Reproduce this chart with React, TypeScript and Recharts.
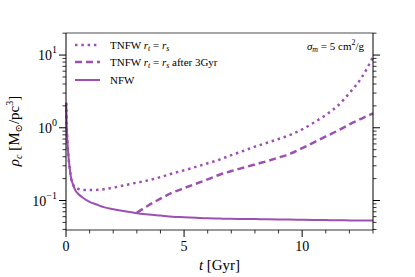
import { LineChart, Line, XAxis, YAxis, Legend } from "recharts";

const PURPLE = "#9d4fb3";
const FONT = "'Liberation Serif', 'Times New Roman', 'DejaVu Serif', serif";

// time grid in Gyr
const times = [
  0.01, 0.03, 0.06, 0.1, 0.15, 0.22, 0.3, 0.4, 0.5, 0.7, 1.0, 1.3, 1.6, 2.0, 2.5, 3.0, 3.5, 4.0,
  4.5, 5, 5.5, 6, 6.5, 7, 7.5, 8, 8.5, 9, 9.5, 10, 10.5, 11, 11.5, 12, 12.5, 13,
];

const nfw = [
  2.2, 1.1, 0.65, 0.42, 0.29, 0.2, 0.165, 0.137, 0.125, 0.11, 0.096, 0.088, 0.081, 0.076, 0.071,
  0.067, 0.064, 0.062, 0.06, 0.059, 0.058, 0.057, 0.0565, 0.056, 0.0557, 0.0555, 0.0552, 0.055,
  0.0547, 0.0544, 0.0541, 0.0538, 0.0535, 0.0533, 0.0531, 0.053,
];

const tnfw = [
  2.2, 1.1, 0.65, 0.42, 0.29, 0.2, 0.165, 0.15, 0.145, 0.14, 0.139, 0.14, 0.143, 0.15, 0.163,
  0.176, 0.19, 0.21, 0.235, 0.26, 0.29, 0.325, 0.365, 0.42, 0.48, 0.55, 0.62, 0.7, 0.8, 0.95,
  1.18, 1.5, 2.0, 3.0, 4.8, 9.4,
];

const tnfwAfter3 = [
  null, null, null, null, null, null, null, null, null, null, null, null, null, null, null,
  0.068, 0.086, 0.106, 0.128, 0.148, 0.17, 0.195, 0.226, 0.254, 0.282, 0.313, 0.347, 0.389, 0.44,
  0.525, 0.63, 0.76, 0.91, 1.11, 1.33, 1.58,
];

const xTicks = [0, 1, 2, 3, 4, 5, 6, 7, 8, 9, 10, 11, 12, 13];
const xMajor = [0, 5, 10];
const yMajor = [0.1, 1, 10];
const yMinor = [0.04, 0.05, 0.06, 0.07, 0.08, 0.09, 0.2, 0.3, 0.4, 0.5, 0.6, 0.7, 0.8, 0.9, 2, 3, 4, 5, 6, 7, 8, 9, 20];
const yTicks = [...yMinor, ...yMajor].sort((a, b) => a - b);
const yExp: Record<string, string> = { "0.1": "\u22121", "1": "0", "10": "1" };

const data = times.map((t, i) => ({
  t,
  nfw: nfw[i],
  tnfw: tnfw[i],
  tnfw3: tnfwAfter3[i],
}));

const XTick = (props: any) => {
  const { x, y, payload } = props;
  const major = xMajor.includes(payload.value);
  return (
    <g>
      <line x1={x} x2={x} y1={y} y2={y + (major ? 7 : 3.5)} stroke="#000" strokeWidth={major ? 1 : 0.8} />
      {major && (
        <text x={x} y={y + 21} textAnchor="middle" fontSize={14} fontFamily={FONT} fill="#000">
          {payload.value}
        </text>
      )}
    </g>
  );
};

const YTickLeft = (props: any) => {
  const { x, y, payload } = props;
  const major = yMajor.includes(payload.value);
  return (
    <g>
      <line x1={x - (major ? 7 : 3.5)} x2={x} y1={y} y2={y} stroke="#000" strokeWidth={major ? 1 : 0.8} />
      {major && (
        <text x={x - 9} y={y + 5} textAnchor="end" fontSize={14} fontFamily={FONT} fill="#000">
          10
          <tspan fontSize={10} dy={-7}>
            {yExp[String(payload.value)]}
          </tspan>
        </text>
      )}
    </g>
  );
};

const YTickRight = (props: any) => {
  const { x, y, payload } = props;
  const major = yMajor.includes(payload.value);
  return <line x1={x} x2={x + (major ? 7 : 3.5)} y1={y} y2={y} stroke="#000" strokeWidth={major ? 1 : 0.8} />;
};

const XTitle = () => (
  <text x={219.5} y={270} textAnchor="middle" fontSize={15} fontFamily={FONT} fill="#000">
    <tspan fontStyle="italic">t</tspan> [Gyr]
  </text>
);

const YTitle = () => (
  <text
    x={19}
    y={131}
    transform="rotate(-90, 19, 131)"
    textAnchor="middle"
    fontSize={15}
    fontFamily={FONT}
    fill="#000"
  >
    <tspan fontStyle="italic">ρ</tspan>
    <tspan fontStyle="italic" fontSize={10} dy={3}>
      c
    </tspan>
    <tspan dy={-3}> [M</tspan>
    <tspan fontSize={10} dy={3}>
      ⊙
    </tspan>
    <tspan dy={-3}>/pc</tspan>
    <tspan fontSize={10} dy={-6}>
      3
    </tspan>
    <tspan dy={6}>]</tspan>
  </text>
);

const sub: React.CSSProperties = { fontSize: "0.72em", fontStyle: "italic", verticalAlign: "-0.3em", lineHeight: 0 };

const legendItems = [
  { dash: "2.5 3.8", kind: "dot" },
  { dash: "7 4", kind: "dash" },
  { dash: undefined, kind: "solid" },
];

const Overlay = () => (
  <div style={{ position: "relative", width: 415, height: 277, fontFamily: FONT, color: "#000" }}>
    <div style={{ position: "absolute", left: 72, top: 36, fontSize: 11 }}>
      {legendItems.map((it) => (
        <div key={it.kind} style={{ display: "flex", alignItems: "center", height: 17.5 }}>
          <svg width={30} height={10} style={{ marginRight: 8 }}>
            <line
              x1={3}
              x2={28}
              y1={5}
              y2={5}
              stroke={PURPLE}
              strokeWidth={it.kind === "solid" ? 2 : 2.5}
              strokeDasharray={it.dash}
            />
          </svg>
          {it.kind === "solid" ? (
            <span>NFW</span>
          ) : (
            <span>
              TNFW <i>r</i>
              <span style={sub}>t</span> = <i>r</i>
              <span style={sub}>s</span>
              {it.kind === "dash" ? " after 3Gyr" : ""}
            </span>
          )}
        </div>
      ))}
    </div>
    <div style={{ position: "absolute", right: 51, top: 40, fontSize: 11, whiteSpace: "nowrap" }}>
      <i>σ</i>
      <span style={sub}>m</span> = 5 cm<sup style={{ fontSize: "0.72em", lineHeight: 0 }}>2</sup>/g
    </div>
  </div>
);

export default function App() {
  return (
    <div style={{ position: "absolute", left: 0, top: 0, background: "#fff" }}>
      <LineChart width={415} height={277} data={data} margin={{ top: 32, right: 32, bottom: 0, left: 0 }}>
        <XAxis
          xAxisId="bottom"
          dataKey="t"
          type="number"
          domain={[0, 13]}
          ticks={xTicks}
          interval={0}
          tickSize={0}
          tickMargin={0}
          tickLine={false}
          tick={XTick}
          axisLine={{ stroke: "#333", strokeWidth: 1 }}
          height={47}
          label={XTitle}
        />
        <XAxis
          xAxisId="top"
          orientation="top"
          type="number"
          domain={[0, 13]}
          tick={false}
          tickLine={false}
          axisLine={{ stroke: "#888", strokeWidth: 1.5 }}
          height={1}
        />
        <YAxis
          yAxisId="left"
          type="number"
          scale="log"
          domain={[0.0393, 20.1]}
          allowDataOverflow
          ticks={yTicks}
          interval={0}
          tickSize={0}
          tickMargin={0}
          tickLine={false}
          tick={YTickLeft}
          axisLine={{ stroke: "#000", strokeWidth: 1 }}
          width={66}
          label={YTitle}
        />
        <YAxis
          yAxisId="right"
          orientation="right"
          type="number"
          scale="log"
          domain={[0.0393, 20.1]}
          allowDataOverflow
          ticks={yTicks}
          interval={0}
          tickSize={0}
          tickMargin={0}
          tickLine={false}
          tick={YTickRight}
          axisLine={{ stroke: "#000", strokeWidth: 1 }}
          width={10}
        />
        <Legend
          layout="horizontal"
          verticalAlign="middle"
          align="center"
          content={Overlay}
          wrapperStyle={{ position: "absolute", left: 0, top: 0, width: 415, height: 277, pointerEvents: "none" }}
        />
        <Line
          xAxisId="bottom"
          yAxisId="left"
          dataKey="tnfw"
          type="monotone"
          stroke={PURPLE}
          strokeWidth={2.5}
          strokeDasharray="2.5 3.8"
          dot={false}
          activeDot={false}
          isAnimationActive={false}
        />
        <Line
          xAxisId="bottom"
          yAxisId="left"
          dataKey="tnfw3"
          type="monotone"
          stroke={PURPLE}
          strokeWidth={2.5}
          strokeDasharray="7 4"
          dot={false}
          activeDot={false}
          isAnimationActive={false}
        />
        <Line
          xAxisId="bottom"
          yAxisId="left"
          dataKey="nfw"
          type="monotone"
          stroke={PURPLE}
          strokeWidth={2}
          dot={false}
          activeDot={false}
          isAnimationActive={false}
        />
      </LineChart>
    </div>
  );
}
